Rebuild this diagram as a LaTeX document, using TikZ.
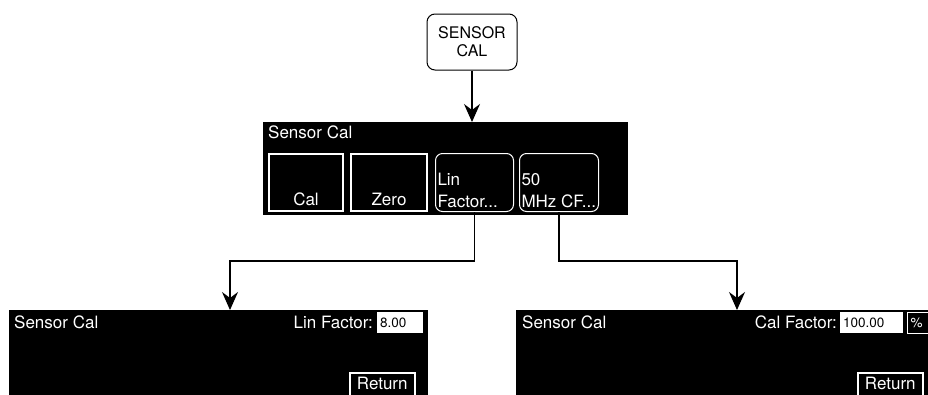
\documentclass[tikz,border=0pt]{standalone}
\usepackage{fontspec}
\setmainfont{TeX Gyre Heros}
\usetikzlibrary{arrows.meta, positioning}

\begin{document}
\begin{tikzpicture}[x=1pt, y=-1pt,
  hardkey/.style={draw, rounded corners=8pt, line width=1pt, minimum width=90pt, minimum height=56pt, align=center, font=\fontsize{16}{18}\selectfont},
  panel/.style={fill=black, anchor=north west, inner sep=0pt},
  ptext/.style={text=white, inner sep=0pt, font=\fontsize{17}{20}\selectfont},
  softkey/.style={draw=white, line width=2pt, fill=black, text=white, anchor=north west, inner xsep=2pt, inner ysep=1pt, font=\fontsize{17}{22}\selectfont},
  menukey/.style={softkey, line width=1pt, rounded corners=7pt},
  valbox/.style={fill=white, anchor=north west, inner xsep=3pt, inner ysep=0pt, minimum height=21pt, text width=40pt, align=left, font=\fontsize{13.5}{15}\selectfont},
  link/.style={line width=1.2pt, -{Stealth[length=18pt, width=16pt, inset=6pt]}},
]
  \clip (0,0) rectangle (928,394);

  % hard key
  \node[hardkey] (sensor) at (472,42) {SENSOR\\CAL};

  % Sensor Cal menu
  \node[panel, minimum width=365pt, minimum height=93pt] (menu) at (263,122) {};
  \node[ptext, anchor=base west] (menutitle) at (268,138) {Sensor Cal};
  \node[softkey, minimum width=74pt, text height=50pt, text depth=5pt] (calkey) at (268,153) {Cal};
  \node[softkey, minimum width=76pt, text height=50pt, text depth=5pt] (zerokey) at (350,153) {Zero};
  \node[menukey, text height=53pt, text depth=3pt] (linkey) at (435,153)
    {\makebox[74pt][l]{\begin{tabular}[b]{@{}l@{}}Lin\\Factor...\end{tabular}}};
  \node[menukey, text height=53pt, text depth=3pt] (cfkey) at (519,153)
    {\makebox[75pt][l]{\begin{tabular}[b]{@{}l@{}}50\\MHz CF...\end{tabular}}};

  % Lin Factor screen
  \node[panel, minimum width=419pt, minimum height=90pt] (linpanel) at (9,310) {};
  \node[ptext, anchor=base west] (lintitle) at (14,328) {Sensor Cal};
  \node[ptext, anchor=base east] (linlabel) at (373,328) {Lin Factor:};
  \node[valbox] (linval) at (377,312) {8.00};
  \node[softkey, line width=1.5pt, minimum width=65pt, text height=16pt, text depth=12pt] (linret) at (349,372) {Return};

  % 50 MHz CF screen
  \node[panel, minimum width=420pt, minimum height=90pt] (cfpanel) at (516,310) {};
  \node[ptext, anchor=base west] (cftitle) at (522,328) {Sensor Cal};
  \node[ptext, anchor=base east] (cflabel) at (837,328) {Cal Factor:};
  \node[valbox, text width=57pt] (cfval) at (840,312) {100.00};
  \node[softkey, line width=1pt, minimum width=30pt, minimum height=21pt, inner ysep=0pt, text width=24pt, align=left, font=\fontsize{13.5}{15}\selectfont] (cfunit) at (907,312) {\%};
  \node[softkey, line width=1.5pt, minimum width=65pt, text height=16pt, text depth=12pt] (cfret) at (857,372) {Return};

  \coordinate (linbend) at (230,261);
  \coordinate (cfbend) at (737,261);

  \draw[link] (sensor.south) -- (sensor.south |- menu.north);
  \draw[link] (linkey.south) |- (linbend) -- (linbend |- linpanel.north);
  \draw[link] (cfkey.south) |- (cfbend) -- (cfbend |- cfpanel.north);
\end{tikzpicture}
\end{document}
